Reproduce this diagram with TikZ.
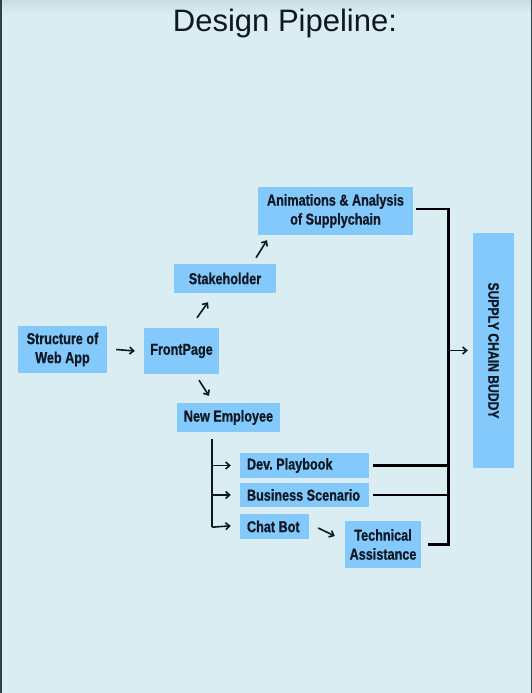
\documentclass[tikz,border=0pt]{standalone}
\usepackage{fontspec}
\setmainfont{Liberation Sans}[FakeStretch=0.8, BoldFeatures={FakeBold=0.7}]
\newfontfamily\titlefont{Liberation Sans}
\usetikzlibrary{arrows.meta}
\definecolor{bg}{HTML}{DAEDF3}
\definecolor{bgtop}{HTML}{C9DCE2}
\definecolor{boxc}{HTML}{84C9FC}
\definecolor{ink}{HTML}{0E1722}
\definecolor{edge}{HTML}{2E4246}
\tikzset{
  box/.style={fill=boxc, draw=none, inner sep=0pt, text=ink, font=\frenchspacing\bfseries\fontsize{15.8}{19}\selectfont, align=center},
  thinarrow/.style={-{Straight Barb[length=4pt,width=7pt]}, line width=1.6pt, draw=ink},
  thinline/.style={line width=1.6pt, draw=ink},
  bar/.style={line width=2.7pt, draw=black},
}
\begin{document}
\begin{tikzpicture}[x=1pt,y=-1pt]
\useasboundingbox (0,0) rectangle (532,693);
\fill[bg] (0,0) rectangle (532,693);
\shade[top color=bgtop, bottom color=bg, draw=none] (0,0) rectangle (532,14);
\fill[edge] (0,0) rectangle (2,693);
\fill[edge] (530.5,0) rectangle (532,693);

\node[font=\titlefont\fontsize{31}{36}\selectfont, text=ink] (title) at (285,23) {Design Pipeline:};

\node[box, minimum width=155pt, minimum height=48pt] (anim) at (335.5,211) {Animations \& Analysis\\of Supplychain};
\node[box, minimum width=102pt, minimum height=29pt] (stake) at (225,278.5) {Stakeholder};
\node[box, minimum width=89pt, minimum height=47pt] (struct) at (62.5,349.5) {Structure of\\Web App};
\node[box, minimum width=75pt, minimum height=46pt] (front) at (181.5,351) {FrontPage};
\node[box, minimum width=103pt, minimum height=29pt] (newemp) at (228.5,417.5) {New Employee};
\node[box, minimum width=129pt, minimum height=25pt] (dev) at (304.5,465.5) {\makebox[115pt][l]{Dev. Playbook}};
\node[box, minimum width=129pt, minimum height=24pt] (bus) at (304.5,495) {\makebox[115pt][l]{Business Scenario}};
\node[box, minimum width=69pt, minimum height=25pt] (chat) at (274.5,526.5) {\makebox[55pt][l]{Chat Bot}};
\node[box, minimum width=76pt, minimum height=47pt] (tech) at (383,544.5) {Technical\\Assistance};
\node[box, minimum width=41pt, minimum height=235pt] (buddy) at (493.5,350.5) {};
\node[text=ink, font=\bfseries\fontsize{15.2}{17}\selectfont, rotate=-90] (buddytxt) at (buddy.center) {SUPPLY CHAIN BUDDY};

% thin arrows
\draw[thinarrow] ([xshift=9]struct.east) -- ([xshift=-9]front.west);
\draw[thinarrow] ([shift={(15.5,-10)}]front.north) -- ([shift={(-17,9)}]stake.south);
\draw[thinarrow] ([shift={(31,-6)}]stake.north) -- ([shift={(-68.5,5)}]anim.south);
\draw[thinarrow] ([shift={(17.5,6)}]front.south) -- ([shift={(-19.5,-7)}]newemp.north);
\coordinate (tr) at ([shift={(-16.5,7)}]newemp.south);
\draw[thinline] (tr) -- ([yshift=-0.7]tr |- chat.west);
\draw[thinarrow] (tr |- dev.west) -- ([xshift=-9]dev.west);
\draw[thinarrow] (tr |- bus.west) -- ([xshift=-9]bus.west);
\draw[thinarrow] ([yshift=-0.7]tr |- chat.west) -- ([shift={(-9,-0.7)}]chat.west);
\draw[thinarrow] ([shift={(9,1.5)}]chat.east) -- ([shift={(-10,-8.5)}]tech.west);

% thick collector
\coordinate (jt) at ([shift={(35,-2)}]anim.east);
\draw[bar] ([shift={(3,-2)}]anim.east) -- (jt) -- (jt |- tech.east) -- ([xshift=7]tech.east);
\draw[bar] ([xshift=4]dev.east) -- (jt |- dev.east);
\draw[bar] ([xshift=4]bus.east) -- (jt |- bus.east);
\draw[thinarrow] (jt |- buddy.west) -- ([xshift=-5]buddy.west);
\end{tikzpicture}
\end{document}
